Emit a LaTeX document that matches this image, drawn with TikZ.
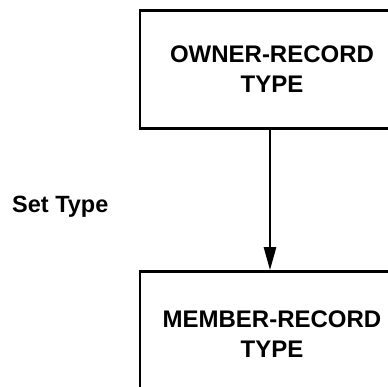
\documentclass[tikz,border=0pt]{standalone}
\usepackage{fontspec}
\setmainfont{Liberation Sans}
\usetikzlibrary{arrows.meta}
\begin{document}
\begin{tikzpicture}[x=1pt,y=-1pt,
  recbox/.style={draw,line width=2.6pt,minimum width=264pt,inner sep=0pt,align=center,
    font=\bfseries\fontsize{24}{30}\selectfont},
  link/.style={line width=2.6pt,-{Triangle[length=23pt,width=12pt]}}]
\useasboundingbox (0,0) rectangle (388,387);
\clip (0,0) rectangle (388,387);
\node[recbox,minimum height=118pt] (owner) at (272,69.5) {OWNER-RECORD\\TYPE};
\node[recbox,minimum height=126pt] (member) at (272,334.5) {MEMBER-RECORD\\TYPE};
\draw[link] ([xshift=-2pt]owner.south) -- ([xshift=-2pt]member.north);
\node[font=\bfseries\fontsize{23.5}{30}\selectfont,anchor=base west,inner sep=0pt] (settype) at (12,213) {Set Type};
\end{tikzpicture}
\end{document}
